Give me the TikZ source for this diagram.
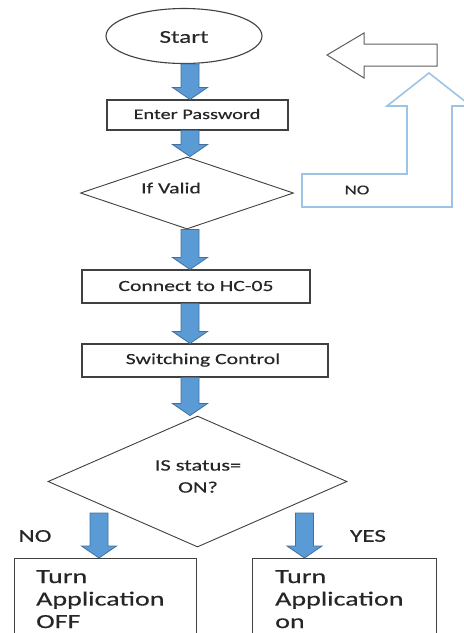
\documentclass[tikz,border=0pt]{standalone}
\usepackage{fontspec}
\setmainfont{Carlito}[FakeStretch=1.4, FakeBold=0.35]
\usetikzlibrary{calc,shapes.geometric}

\definecolor{linegray}{HTML}{404040}
\definecolor{txtgray}{HTML}{262626}
\definecolor{arrowfill}{HTML}{5B9BD5}
\definecolor{arrowedge}{HTML}{41719C}
\definecolor{loopblue}{HTML}{9DC3E6}

% downward block arrow from a top point to a tip point (same x)
\newcommand\downblock[2]{%
  \filldraw[blockarrow]
    ($(#1)+(-9,0)$) -- ($(#2)+(-9,-12)$) -- ($(#2)+(-17.5,-12)$) -- (#2)
    -- ($(#2)+(17.5,-12)$) -- ($(#2)+(9,-12)$) -- ($(#1)+(9,0)$) -- cycle;}

\begin{document}
\begin{tikzpicture}[x=1pt,y=-1pt,
  every node/.style={text=txtgray},
  outline/.style={draw=linegray, line width=1.1pt, fill=white, inner sep=0pt},
  procbox/.style={outline, rectangle},
  decision/.style={outline, diamond, line width=0.9pt},
  terminal/.style={outline, ellipse},
  blockarrow/.style={fill=arrowfill, draw=arrowedge, line width=0.8pt, line join=miter},
  label/.style={inner sep=0pt, font=\fontsize{15.5}{18}\selectfont},
  biglabel/.style={inner sep=0pt, font=\fontsize{18}{20}\selectfont},
  resulttext/.style={inner sep=0pt, align=left, anchor=north west,
                     font=\fontsize{20}{22.5}\selectfont}]
\useasboundingbox (0,0) rectangle (464,633);

% main column of the flowchart
\coordinate (colx) at (190,0);

\node[terminal, minimum width=156pt, minimum height=55pt] (start) at (184,36) {};
\node[biglabel] at (184,37) {Start};

\node[procbox, minimum width=181pt, minimum height=30pt] (pw) at (197.5,115) {};
\node[label, font=\fontsize{14.5}{17}\selectfont] at (197,114) {Enter Password};

\node[decision, minimum width=213pt, minimum height=72pt] (ifv) at (187,193) {};
\node[label] at (171,188) {If Valid};

\node[procbox, minimum width=228pt, minimum height=33pt] (conn) at (196,286.5) {};
\node[label] at (196,286) {Connect to HC-05};

\node[procbox, minimum width=246pt, minimum height=33pt] (sw) at (205,360.5) {};
\node[label] at (203,360) {Switching Control};

\node[decision, minimum width=299pt, minimum height=131pt] (st) at (197.5,481.5) {};
\node[label, align=center, anchor=north, font=\fontsize{16}{22}\selectfont]
  at (198,460) {IS status=\\ON?};

% result boxes, running past the lower edge
\node[procbox, minimum width=182pt, minimum height=110pt, anchor=north west] (off) at (14,558) {};
\node[resulttext] at (36,570) {Turn\\Application\\OFF};

\node[procbox, minimum width=184pt, minimum height=110pt, anchor=north west] (on) at (252,558) {};
\node[resulttext] at (275,570) {Turn\\Application\\on};

% flow arrows
\downblock{start.south -| colx}{pw.north -| colx}
\downblock{pw.south -| colx}{ifv.north -| colx}
\downblock{ifv.south -| colx}{conn.north -| colx}
\downblock{conn.south -| colx}{sw.north -| colx}
\downblock{sw.south -| colx}{st.north -| colx}

\coordinate (lt) at (99,513);
\coordinate (rt) at (304.5,513);
\downblock{lt}{off.north -| lt}
\downblock{rt}{on.north -| rt}

\node[biglabel] at (35,536) {NO};
\node[biglabel] at (368,536) {YES};

% loop back when the password is not valid
\draw[draw=loopblue, line width=1.6pt, line join=miter]
  (302,207) -- (302,174) -- (407,174) -- (407,106) -- (387,106) -- (429,73)
  -- (471,106) -- (452,106) -- (452,207) -- cycle;
\node[label, font=\fontsize{13.5}{16}\selectfont] (no) at (357,190) {NO};

\draw[draw=linegray!85, line width=1pt, line join=miter]
  (437,44) -- (364,44) -- (364,33) -- (327,55) -- (364,78) -- (364,66)
  -- (437,66) -- cycle;
\end{tikzpicture}
\end{document}
